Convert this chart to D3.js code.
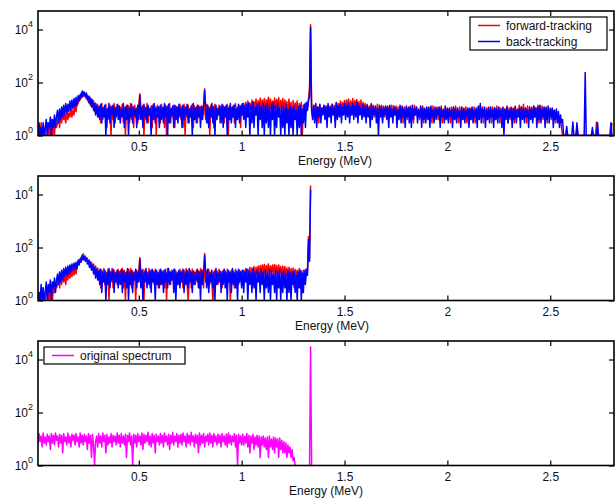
<!DOCTYPE html>
<html><head><meta charset="utf-8">
<script src="https://cdn.jsdelivr.net/npm/d3@7"></script>
<style>body{margin:0;background:#fff}svg{display:block}text{font-family:"Liberation Sans",Arial,Helvetica,sans-serif}</style>
</head><body><svg id="c" width="616" height="501"></svg>
<script>
// Energy grid (MeV): channel centres 0.005, 0.010, ... (step 0.005)
const energyStart = 0.005, energyStep = 0.005;
const xTicks = [0.5, 1, 1.5, 2, 2.5];
const yTicks = [1, 100, 10000];
const yTickExp = ["0", "2", "4"];
const xLabel = "Energy (MeV)";

// Panel 1: forward-tracking (red) and back-tracking (blue), 0.005..2.800 MeV
const fwd1 = [
1,2,1,1,3,1,2,1,1,2, 3,1,2,1,4,1,3,1,4,2,
3,6,2,7,3,8,4,6,3,9, 4,7,5,10,5,9,6,14,8,18,
16,30,22,40,28,44,32,38,24,34, 18,30,14,24,12,20,8,17,7,15,
5,13,3,16,4,12,6,15,2,11, 5,14,1,13,4,16,3,12,6,14,
4,12,6,15,3,11,1,14,5,13, 3,16,4,12,2,14,5,11,3,15,
38,12,5,14,1,12,4,16,3,11, 6,13,2,15,4,12,1,14,5,12,
3,15,5,12,2,14,1,13,4,16, 3,11,5,14,2,13,4,12,6,15,
4,13,2,15,1,12,5,14,3,11, 6,15,2,13,4,12,3,14,5,12,
4,12,6,58,4,15,3,12,1,14, 5,13,2,15,4,11,6,14,3,12,
5,14,3,12,6,15,1,13,4,11, 5,14,3,16,4,12,6,13,2,15,
6,16,8,18,5,20,9,17,6,22, 8,19,10,24,7,21,9,26,8,22,
10,25,7,22,12,28,8,24,10,20, 6,26,9,23,11,27,8,21,12,25,
7,22,10,19,4,24,8,18,2,21, 6,17,9,20,3,16,7,18,1,14,
5,16,8,12,25,60,15000,12,5,13, 4,15,6,12,3,14,5,11,7,13,
5,12,4,14,6,13,5,15,7,14, 6,18,8,16,9,20,7,18,10,21,
8,22,10,24,7,20,9,25,8,21, 11,23,7,19,9,22,6,18,8,16,
5,15,7,13,4,16,6,14,5,12, 7,15,3,12,6,14,4,13,5,12,
6,13,4,12,7,14,5,11,6,13, 4,12,6,10,5,13,3,12,6,11,
4,12,6,13,5,11,3,14,6,12, 5,10,4,12,6,13,3,11,5,10,
6,12,4,11,3,13,5,10,6,12, 4,11,5,13,3,10,6,12,4,11,
5,10,3,12,6,11,4,13,5,9, 3,12,6,10,4,11,5,12,3,10,
6,11,4,10,5,12,3,9,6,11, 4,13,5,12,3,10,6,11,4,12,
5,10,3,12,6,11,4,13,5,10, 3,11,6,12,4,10,5,13,3,11,
4,12,6,11,3,13,5,10,6,14, 4,12,5,15,6,11,3,13,5,10,
6,12,4,13,5,11,6,14,3,12, 5,13,4,11,6,12,3,10,5,11,
4,10,5,9,3,8,4,6,3,4, 2,1,1,1,1,1,1,1,1,1,
1,1,1,1,1,2,1,1,1,1, 1,1,1,1,1,1,1,1,1,1,
1,1,1,1,3.2,1,1,1,1,1, 1,1,1,1,1,1,1,1,1,3];
const back1 = [
2,1,3,1,2,1,3,1,2,4, 1,3,2,5,1,4,2,6,2,5,
9,3,10,4,12,5,14,6,16,7, 15,8,20,9,22,10,25,12,28,14,
32,20,36,26,48,30,44,28,40,22, 30,16,26,12,22,9,16,6,14,5,
12,4,15,3,11,5,14,1,10,4, 16,3,12,6,14,2,11,5,15,4,
13,3,10,5,16,2,12,4,14,1, 11,5,15,3,12,6,10,2,14,4,
32,4,12,2,15,5,11,3,14,6, 10,1,13,4,16,3,11,5,12,2,
14,4,11,3,16,5,12,1,15,3, 10,6,13,2,14,4,12,3,15,5,
11,2,14,4,12,6,15,3,10,5, 13,1,16,4,11,3,14,5,12,2,
13,4,15,50,12,3,14,2,11,5, 16,3,12,1,14,4,10,6,13,3,
15,2,12,5,14,1,11,4,16,3, 12,5,14,2,10,4,15,3,13,6,
16,4,13,2,15,5,17,1,14,3, 18,2,12,6,15,1,16,4,13,2,
17,1,14,3,16,2,12,1,15,4, 18,1,13,2,16,5,11,1,14,2,
12,1,15,3,10,1,14,2,11,1, 13,4,9,1,12,2,14,1,10,3,
15,2,18,9,20,30,12000,9,4,14, 3,16,2,12,5,15,3,11,6,14,
4,13,2,16,5,12,3,15,6,11, 2,17,4,13,5,15,3,12,6,16,
4,14,5,17,3,12,6,16,4,13, 5,18,3,14,6,12,4,15,5,13,
3,14,5,11,2,15,4,12,6,13, 3,10,1,14,5,12,3,11,6,13,
4,12,2,14,5,10,3,13,6,11, 2,9,4,14,3,12,5,10,2,13,
5,11,3,12,2,14,4,10,6,12, 3,9,5,13,2,11,4,10,3,12,
4,11,2,13,5,9,3,12,4,10, 6,12,2,11,5,9,3,13,4,10,
3,11,5,9,2,12,4,10,3,11, 5,8,2,12,4,10,3,9,5,11,
2,10,4,12,3,9,5,11,2,13, 4,16,3,10,5,12,2,9,4,11,
3,12,5,9,2,11,4,10,3,12, 5,9,2,11,1,10,4,12,3,9,
5,11,2,10,4,12,3,9,5,11, 2,12,4,10,3,11,5,9,2,12,
4,10,3,13,5,11,2,12,4,14, 3,10,5,12,2,11,4,13,3,10,
5,11,2,9,4,10,3,8,2,6, 3,4,1,1,1,2.2,1,1,1,1,
1,3.2,1,1,1,3,1,1,1,1, 1,1,1,240,1,1,1,1,1,1,
2,1,1,1,1,3,1,1,1,1, 1,1,1,1,1,1,1,1,3,1];

// Panel 2: forward/back-tracking up to the 1.335 MeV line, 0.005..1.335 MeV
const fwd2 = [
1,2,1,1,2,1,3,1,1,2, 3,1,2,1,4,1,3,2,4,3,
4,8,3,9,4,10,5,9,4,12, 6,13,7,14,8,16,9,18,10,20,
22,34,28,44,36,58,40,48,30,40, 24,34,18,28,15,24,11,20,9,17,
6,15,3,14,5,16,4,12,6,15, 1,13,5,16,3,14,6,12,4,15,
5,13,6,16,3,14,1,12,5,15, 4,16,3,13,6,12,1,14,5,13,
42,13,4,15,1,14,6,12,5,16, 3,14,5,13,4,15,6,12,3,14,
4,14,6,13,3,15,1,16,5,12, 4,14,6,15,3,13,5,12,4,15,
5,13,3,14,6,16,4,1,5,14, 3,15,6,12,4,14,5,13,3,16,
5,14,3,60,5,13,6,15,4,12, 5,1,3,14,6,13,4,15,5,12,
3,14,6,13,4,15,5,12,1,14, 6,13,3,15,5,12,4,14,6,13,
5,14,7,16,6,15,8,18,6,17, 9,19,7,18,10,20,8,21,9,22,
10,23,8,21,11,24,9,20,12,22, 8,23,10,21,7,22,11,19,8,20,
7,19,9,17,5,18,8,16,6,17, 3,15,7,14,4,16,6,13,2,14,
6,15,9,14,260,40,22000];
const back2 = [
3,1,2,1,4,1,3,1,2,5, 1,4,2,6,1,5,3,7,2,6,
10,4,12,5,14,6,16,8,18,9, 20,10,22,12,24,14,26,15,28,16,
34,22,38,28,52,34,46,30,40,24, 32,18,28,14,22,10,18,7,15,6,
13,4,15,2,12,5,14,1,11,4, 16,3,12,6,15,2,11,5,14,3,
12,4,15,2,13,5,11,3,16,1, 12,4,14,2,11,6,15,3,12,5,
35,3,14,1,12,5,16,3,11,4, 13,2,15,5,12,1,14,4,11,3,
15,4,12,2,14,5,11,3,16,4, 12,6,13,2,15,1,11,4,14,3,
12,5,15,2,11,4,14,3,16,5, 12,2,13,4,11,6,15,3,12,1,
14,4,12,50,13,3,15,2,11,5, 14,3,12,1,16,4,11,5,13,2,
12,4,15,3,11,1,14,5,12,2, 16,4,11,3,13,1,15,5,12,3,
14,2,12,5,15,1,13,4,11,2, 16,3,12,1,14,5,11,2,15,4,
12,1,14,3,11,2,15,1,13,4, 10,2,14,1,12,3,15,1,11,2,
13,3,10,1,14,2,12,1,11,4, 13,2,9,1,12,3,14,1,11,2,
13,4,15,9,200,30,15000];

// Panel 3: original spectrum (null = no counts), 0.005..1.340 MeV
const orig3 = [
14,6,16,8,13,5,17,7,12,6, 15,8,13,4,16,7,14,6,17,9,
13,5,15,7,14,3,16,8,12,6, 17,7,13,5,15,9,14,6,16,8,
12,5,17,7,14,6,15,8,13,4, 16,7,14,2,15,6,1,8,13,5,
16,7,13,5,17,8,14,3,15,6, 12,7,16,5,14,8,13,6,17,7,
14,5,16,7,13,6,15,2,14,8, 17,6,13,1,15,7,14,5,16,8,
13,6,17,4,15,7,14,8,18,6, 13,5,16,7,14,3,15,8,13,6,
16,7,14,5,17,8,13,6,15,4, 14,7,18,6,13,8,16,5,14,7,
15,6,17,8,13,5,16,7,14,6, 18,8,13,5,15,7,14,3,17,6,
14,7,16,5,13,8,15,6,17,7, 14,5,16,8,13,6,15,7,14,5,
16,8,13,6,15,5,17,7,14,6, 13,8,16,5,14,1,15,7,13,6,
15,6,13,7,16,5,14,3,13,7, 15,4,12,6,14,5,13,2,12,6,
13,5,11,4,12,2,13,5,10,4, 12,3,11,5,10,2,11,4,9,3,
8,3,7,2,6,3,5,2,4,1.5, 2,1,
null,null,null,null,null,null,null,null,null,null,null,null,null,
1,30000,1];

const fwdColor = "#ff0000", backColor = "#0000ff", origColor = "#ff00ff";

const svg = d3.select("#c");
const L = 38, R = 614, H = 124.5;
const tops = [11, 176, 341];
const labelCentres = [335, 332, 326];
const x = d3.scaleLinear().domain([0.01, 2.81]).range([L, R]);

function drawPanel(p, series) {
  const top = tops[p];
  const y = d3.scaleLog().domain([1, 5e4]).range([top + H, top]).clamp(true);
  const g = svg.append("g");
  g.append("defs").append("clipPath").attr("id", "clip" + p)
    .append("rect").attr("x", L).attr("y", top).attr("width", R - L).attr("height", H);
  const line = d3.line()
    .defined(d => d != null)
    .x((d, i) => x(energyStart + i * energyStep))
    .y(d => y(d));
  series.forEach(s => {
    g.append("path").attr("clip-path", "url(#clip" + p + ")")
      .attr("d", line(s.values)).attr("fill", "none")
      .attr("stroke", s.color).attr("stroke-width", 1.5).attr("stroke-linejoin", "round");
  });
  const ab = g.append("g").attr("transform", `translate(0,${top + H})`)
    .call(d3.axisBottom(x).tickValues(xTicks).tickSize(-5).tickPadding(6.5).tickFormat(d3.format("")));
  const at = g.append("g").attr("transform", `translate(0,${top})`)
    .call(d3.axisTop(x).tickValues(xTicks).tickSize(-5).tickFormat(""));
  const al = g.append("g").attr("transform", `translate(${L},0)`)
    .call(d3.axisLeft(y).tickValues(yTicks).tickSize(-5).tickFormat(""));
  const ar = g.append("g").attr("transform", `translate(${R},0)`)
    .call(d3.axisRight(y).tickValues(yTicks).tickSize(-5).tickFormat(""));
  [ab, at, al, ar].forEach(a => {
    a.select(".domain").remove();
    a.selectAll("line").attr("stroke", "#000").attr("stroke-width", 1.2);
  });
  ab.selectAll("text").attr("font-size", 12).attr("fill", "#111")
    .attr("font-family", '"Liberation Sans",Arial,sans-serif');
  g.append("rect").attr("x", L).attr("y", top).attr("width", R - L).attr("height", H)
    .attr("fill", "none").attr("stroke", "#000").attr("stroke-width", 1.6);
  yTicks.forEach((t, i) => {
    const tx = g.append("text").attr("x", 33).attr("y", y(t) + 4.5)
      .attr("text-anchor", "end").attr("font-size", 12).attr("fill", "#111");
    tx.append("tspan").text("10");
    tx.append("tspan").attr("dy", -7).attr("font-size", 9).text(yTickExp[i]);
  });
  g.append("text").attr("x", labelCentres[p]).attr("y", top + H + 29)
    .attr("text-anchor", "middle").attr("font-size", 12).attr("fill", "#111").text(xLabel);
}

drawPanel(0, [{values: fwd1, color: fwdColor}, {values: back1, color: backColor}]);
drawPanel(1, [{values: fwd2, color: fwdColor}, {values: back2, color: backColor}]);
drawPanel(2, [{values: orig3, color: origColor}]);

function legend(x0, y0, w, items) {
  const h = items.length * 16 + 1;
  const g = svg.append("g");
  g.append("rect").attr("x", x0).attr("y", y0).attr("width", w).attr("height", h)
    .attr("fill", "#fff").attr("stroke", "#000").attr("stroke-width", 1.2);
  items.forEach((it, i) => {
    const cy = y0 + 8.5 + i * 16;
    g.append("line").attr("x1", x0 + 8).attr("x2", x0 + 30).attr("y1", cy).attr("y2", cy)
      .attr("stroke", it.color).attr("stroke-width", 1.5);
    g.append("text").attr("x", x0 + 36).attr("y", cy + 4.2).attr("font-size", 12)
      .attr("fill", "#111").text(it.label);
  });
}
legend(470, 17, 137, [{label: "forward-tracking", color: fwdColor}, {label: "back-tracking", color: backColor}]);
legend(44, 347, 141, [{label: "original spectrum", color: origColor}]);
</script></body></html>
